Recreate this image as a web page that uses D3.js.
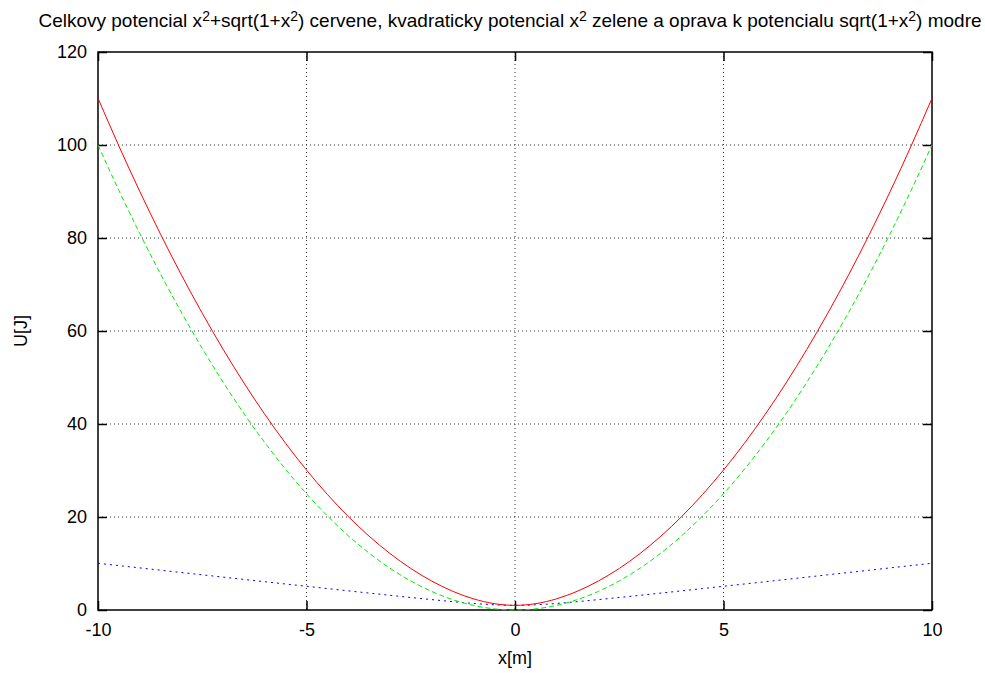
<!DOCTYPE html>
<html>
<head>
<meta charset="utf-8">
<script src="https://cdn.jsdelivr.net/npm/d3@7"></script>
<style>
  body { margin: 0; background: #fff; }
  text { font-family: "Liberation Sans", Arial, sans-serif; font-size: 18px; fill: #000; }
</style>
</head>
<body>
<div id="chart"></div>
<script>
// values, step 0.5 in x
const xs = [-10, -9.5, -9, -8.5, -8, -7.5, -7, -6.5, -6, -5.5, -5, -4.5, -4, -3.5, -3, -2.5, -2, -1.5, -1, -0.5,
  0, 0.5, 1, 1.5, 2, 2.5, 3, 3.5, 4, 4.5, 5, 5.5, 6, 6.5, 7, 7.5, 8, 8.5, 9, 9.5, 10];
const total = [110.05, 99.8, 90.06, 80.81, 72.06, 63.82, 56.07, 48.83, 42.08, 35.84, 30.1, 24.86, 20.12, 15.89, 12.16, 8.94, 6.24, 4.05, 2.41, 1.37,
  1.0, 1.37, 2.41, 4.05, 6.24, 8.94, 12.16, 15.89, 20.12, 24.86, 30.1, 35.84, 42.08, 48.83, 56.07, 63.82, 72.06, 80.81, 90.06, 99.8, 110.05];
const quad = [100, 90.25, 81, 72.25, 64, 56.25, 49, 42.25, 36, 30.25, 25, 20.25, 16, 12.25, 9, 6.25, 4, 2.25, 1, 0.25,
  0, 0.25, 1, 2.25, 4, 6.25, 9, 12.25, 16, 20.25, 25, 30.25, 36, 42.25, 49, 56.25, 64, 72.25, 81, 90.25, 100];
const corr = [10.05, 9.55, 9.06, 8.56, 8.06, 7.57, 7.07, 6.58, 6.08, 5.59, 5.1, 4.61, 4.12, 3.64, 3.16, 2.69, 2.24, 1.8, 1.41, 1.12,
  1.0, 1.12, 1.41, 1.8, 2.24, 2.69, 3.16, 3.64, 4.12, 4.61, 5.1, 5.59, 6.08, 6.58, 7.07, 7.57, 8.06, 8.56, 9.06, 9.55, 10.05];
const xTicks = [-10, -5, 0, 5, 10];
const yTicks = [0, 20, 40, 60, 80, 100, 120];

const W = 985, H = 673;
const margin = { top: 52, right: 53, bottom: 63, left: 98 };
const width = W - margin.left - margin.right;
const height = H - margin.top - margin.bottom;

const svg = d3.select('#chart').append('svg')
  .attr('width', W)
  .attr('height', H);

const g = svg.append('g')
  .attr('transform', `translate(${margin.left},${margin.top})`);

const x = d3.scaleLinear().domain([-10, 10]).range([0, width]);
const y = d3.scaleLinear().domain([0, 120]).range([height, 0]);

// grid
g.selectAll('.gx').data(xTicks.filter(d => d > -10 && d < 10)).enter().append('line')
  .attr('x1', d => x(d)).attr('x2', d => x(d))
  .attr('y1', 0).attr('y2', height)
  .attr('stroke', '#333').attr('stroke-width', 1).attr('stroke-dasharray', '1,3');
g.selectAll('.gy').data(yTicks.filter(d => d > 0 && d < 120)).enter().append('line')
  .attr('x1', 0).attr('x2', width)
  .attr('y1', d => y(d)).attr('y2', d => y(d))
  .attr('stroke', '#333').attr('stroke-width', 1).attr('stroke-dasharray', '1,3');

// axes (ticks pointing inward, mirrored)
const tickLen = 9;
const fmt = d => String(d);
const axB = g.append('g').attr('transform', `translate(0,${height})`)
  .call(d3.axisBottom(x).tickValues(xTicks).tickSize(-tickLen).tickPadding(tickLen + 4).tickFormat(fmt));
const axT = g.append('g')
  .call(d3.axisTop(x).tickValues(xTicks).tickSize(-tickLen).tickFormat(''));
const axL = g.append('g')
  .call(d3.axisLeft(y).tickValues(yTicks).tickSize(-tickLen).tickPadding(tickLen + 2).tickFormat(fmt));
const axR = g.append('g').attr('transform', `translate(${width},0)`)
  .call(d3.axisRight(y).tickValues(yTicks).tickSize(-tickLen).tickFormat(''));

[axB, axT, axL, axR].forEach(a => {
  a.select('.domain').remove();
  a.selectAll('line').attr('stroke', '#000').attr('stroke-width', 1.5);
  a.selectAll('text').style('font-family', '"Liberation Sans", Arial, sans-serif').style('font-size', '18px');
});

// border
g.append('rect')
  .attr('width', width).attr('height', height)
  .attr('fill', 'none').attr('stroke', '#000').attr('stroke-width', 1.5);

// curves
const line = vals => d3.line()
  .x((d, i) => x(xs[i]))
  .y(d => y(d))
  .curve(d3.curveMonotoneX)(vals);

g.append('path').attr('d', line(corr))
  .attr('fill', 'none').attr('stroke', '#0000ff').attr('stroke-width', 1)
  .attr('stroke-dasharray', '2,4');
g.append('path').attr('d', line(quad))
  .attr('fill', 'none').attr('stroke', '#00ee00').attr('stroke-width', 1)
  .attr('stroke-dasharray', '5,3');
g.append('path').attr('d', line(total))
  .attr('fill', 'none').attr('stroke', '#ff0000').attr('stroke-width', 1);

// labels
svg.append('text')
  .attr('x', margin.left + width / 2).attr('y', 664)
  .attr('text-anchor', 'middle').text('x[m]');
svg.append('text')
  .attr('transform', `translate(27,${margin.top + height / 2}) rotate(-90)`)
  .attr('text-anchor', 'middle').text('U[J]');

// title with superscripts
const title = svg.append('text')
  .attr('x', 510).attr('y', 27)
  .attr('text-anchor', 'middle')
  .style('font-size', '19px');
const parts = [
  ['Celkovy potencial x', false], ['2', true], ['+sqrt(1+x', false], ['2', true],
  [') cervene, kvadraticky potencial x', false], ['2', true],
  [' zelene a oprava k potencialu sqrt(1+x', false], ['2', true], [') modre', false],
];
parts.forEach(([t, sup]) => {
  const ts = title.append('tspan').text(t);
  if (sup) ts.attr('baseline-shift', '45%').style('font-size', '14px');
});
</script>
</body>
</html>
